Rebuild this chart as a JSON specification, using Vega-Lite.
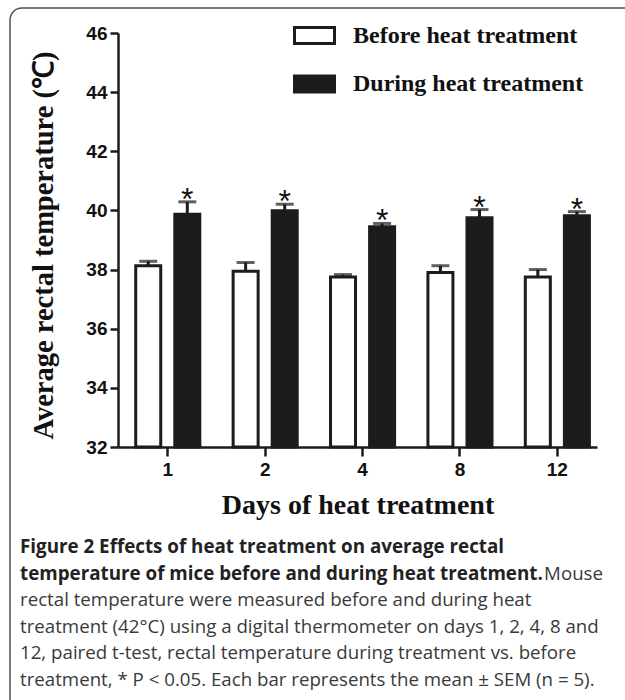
{
  "$schema": "https://vega.github.io/schema/vega-lite/v6.json",
  "width": 640,
  "height": 710,
  "autosize": {"type": "none"},
  "padding": {"left": 10, "top": 8, "right": 0, "bottom": 0},
  "background": "white",
  "config": {
    "view": {
      "stroke": {
        "gradient": "linear",
        "x1": 0, "y1": 0, "x2": 1, "y2": 0,
        "stops": [
          {"offset": 0, "color": "#505050"},
          {"offset": 0.988, "color": "#505050"},
          {"offset": 0.994, "color": "#ffffff"},
          {"offset": 1, "color": "#ffffff"}
        ]
      },
      "strokeWidth": 1.5,
      "cornerRadius": 12,
      "fill": "white"
    }
  },
  "datasets": {
    "bars": [
      {"day": "1", "group": "Before heat treatment", "mean": 38.13, "upper": 38.28},
      {"day": "1", "group": "During heat treatment", "mean": 39.87, "upper": 40.29},
      {"day": "2", "group": "Before heat treatment", "mean": 37.94, "upper": 38.24},
      {"day": "2", "group": "During heat treatment", "mean": 39.99, "upper": 40.21},
      {"day": "4", "group": "Before heat treatment", "mean": 37.75, "upper": 37.83},
      {"day": "4", "group": "During heat treatment", "mean": 39.45, "upper": 39.56},
      {"day": "8", "group": "Before heat treatment", "mean": 37.90, "upper": 38.13},
      {"day": "8", "group": "During heat treatment", "mean": 39.75, "upper": 40.03},
      {"day": "12", "group": "Before heat treatment", "mean": 37.75, "upper": 38.00},
      {"day": "12", "group": "During heat treatment", "mean": 39.82, "upper": 39.96}
    ],
    "captionBold": [
      {"line": 1, "text": "Figure 2 Effects of heat treatment on average rectal"},
      {"line": 2, "text": "temperature of mice before and during heat treatment."}
    ],
    "captionBody": [
      {"line": 2, "text": "Mouse"},
      {"line": 3, "text": "rectal temperature were measured before and during heat"},
      {"line": 4, "text": "treatment (42°C) using a digital thermometer on days 1, 2, 4, 8 and"},
      {"line": 5, "text": "12, paired t-test, rectal temperature during treatment vs. before"},
      {"line": 6, "text": "treatment, * P < 0.05. Each bar represents the mean ± SEM (n = 5)."}
    ]
  },
  "layer": [
    {
      "data": {"name": "bars"},
      "encoding": {
        "x": {
          "field": "day",
          "type": "nominal",
          "sort": ["1", "2", "4", "8", "12"],
          "scale": {"range": [108, 587], "paddingInner": 0.342, "paddingOuter": 0.13, "align": 0.7},
          "axis": {
            "title": "Days of heat treatment",
            "offset": -271,
            "labelAngle": 0,
            "labelFont": "Liberation Sans",
            "labelFontWeight": "bold",
            "labelFontSize": 19,
            "labelColor": "#111",
            "labelPadding": 4,
            "tickSize": 9,
            "tickWidth": 2.5,
            "tickColor": "#1c1c1c",
            "domainWidth": 2.5,
            "domainColor": "#1c1c1c",
            "titleFont": "Liberation Serif",
            "titleFontWeight": "bold",
            "titleFontSize": 28,
            "titleColor": "#111",
            "titleBaseline": "alphabetic",
            "titleY": 66
          }
        },
        "xOffset": {
          "field": "group",
          "type": "nominal",
          "scale": {"paddingInner": 0.36, "paddingOuter": 0}
        },
        "y": {
          "field": "mean",
          "type": "quantitative",
          "scale": {"domain": [32, 46], "range": [439, 25], "nice": false, "zero": false},
          "axis": {
            "title": "Average rectal temperature (℃)",
            "offset": -108,
            "values": [32, 34, 36, 38, 40, 42, 44, 46],
            "grid": false,
            "labelFont": "Liberation Sans",
            "labelFontWeight": "bold",
            "labelFontSize": 19,
            "labelColor": "#111",
            "labelPadding": 3,
            "tickSize": 8,
            "tickWidth": 2.5,
            "tickColor": "#1c1c1c",
            "domainWidth": 2.5,
            "domainColor": "#1c1c1c",
            "titleFont": "Liberation Serif",
            "titleFontWeight": "bold",
            "titleFontSize": 28.5,
            "titleColor": "#111",
            "titleAngle": -90,
            "titleBaseline": "alphabetic",
            "titleX": -66,
            "titleY": 237
          }
        }
      },
      "layer": [
        {
          "mark": {"type": "bar", "stroke": "#1c1c1c", "strokeWidth": 3},
          "encoding": {
            "y2": {"datum": 32},
            "fill": {
              "field": "group",
              "type": "nominal",
              "scale": {"domain": ["Before heat treatment", "During heat treatment"], "range": ["#ffffff", "#1c1c1c"]},
              "legend": {
                "title": null,
                "orient": "none",
                "legendX": 283,
                "legendY": 6,
                "padding": 0,
                "symbolType": "M-1,-0.4H1V0.4H-1Z",
                "symbolSize": 1600,
                "symbolStrokeColor": "#1c1c1c",
                "symbolStrokeWidth": 3,
                "labelFont": "Liberation Serif",
                "labelFontWeight": "bold",
                "labelFontSize": 24,
                "labelColor": "#111",
                "labelOffset": 17,
                "rowPadding": 12.5,
                "labelLimit": 400
              }
            }
          }
        },
        {
          "mark": {"type": "rule", "stroke": "#1c1c1c", "strokeWidth": 3},
          "encoding": {"y2": {"field": "upper"}}
        },
        {
          "mark": {"type": "tick", "color": "#1c1c1c", "size": 18, "thickness": 3, "orient": "horizontal"},
          "encoding": {"y": {"field": "upper", "type": "quantitative"}}
        },
        {
          "transform": [{"filter": "datum.group === 'During heat treatment'"}],
          "mark": {"type": "text", "text": "*", "font": "Liberation Sans", "fontSize": 32, "baseline": "alphabetic", "dy": 8, "color": "#111"},
          "encoding": {"y": {"field": "upper", "type": "quantitative"}}
        }
      ]
    },
    {
      "encoding": {
        "y": {"field": "line", "type": "quantitative", "scale": {"domain": [1, 6], "range": [545, 678]}, "axis": null}
      },
      "layer": [
        {
          "data": {"name": "captionBold"},
          "mark": {"type": "text", "align": "left", "baseline": "alphabetic", "font": "Open Sans", "fontWeight": "bold", "fontSize": 18.8, "color": "#222"},
          "encoding": {
            "x": {"datum": 0, "type": "quantitative", "scale": {"domain": [0, 1], "range": [10, 593]}, "axis": null},
            "text": {"field": "text"}
          }
        },
        {
          "data": {"name": "captionBody"},
          "transform": [{"filter": "datum.line !== 2"}],
          "mark": {"type": "text", "align": "left", "baseline": "alphabetic", "font": "Open Sans", "fontSize": 18.7, "color": "#3a3a3a"},
          "encoding": {
            "x": {"datum": 0, "type": "quantitative"},
            "text": {"field": "text"}
          }
        },
        {
          "data": {"name": "captionBody"},
          "transform": [{"filter": "datum.line === 2"}],
          "mark": {"type": "text", "align": "right", "baseline": "alphabetic", "font": "Open Sans", "fontSize": 18.7, "color": "#3a3a3a"},
          "encoding": {
            "x": {"datum": 1, "type": "quantitative"},
            "text": {"field": "text"}
          }
        }
      ]
    }
  ],
  "resolve": {"scale": {"x": "independent", "y": "independent"}}
}
